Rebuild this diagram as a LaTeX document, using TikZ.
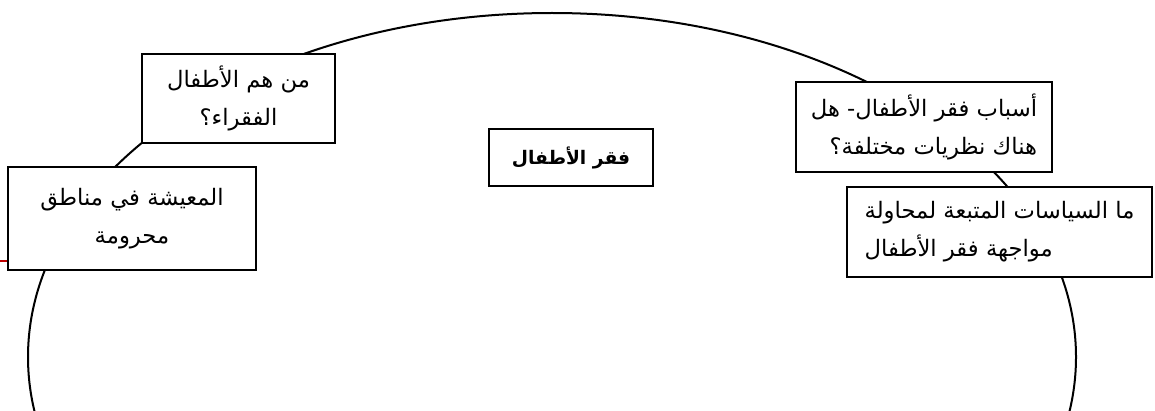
\documentclass[tikz,border=0pt]{standalone}
\usepackage{fontspec}
\newfontfamily\arabicfont[Script=Arabic]{DejaVu Sans}
\TeXXeTstate=1
\usepackage{tikz}

\begin{document}
\begin{tikzpicture}[x=0.75pt, y=-0.75pt,
    box/.style={draw, fill=white, line width=1.5pt, inner sep=0pt,
        align=center, font=\arabicfont\fontsize{17}{28.5}\selectfont}]
    \useasboundingbox (0,0) rectangle (1155,410);
    \clip (0,0) rectangle (1155,410);
    \draw[line width=1.5pt] (552,357) ellipse [x radius=524, y radius=344];
    \node[box, minimum width=144.75pt, minimum height=66.75pt] (poor) at (238.5,98.5)
        {\beginR من هم الأطفال\endR\\\beginR الفقراء؟\endR};
    \node[box, minimum width=186pt, minimum height=77.25pt] (living) at (132,218.5)
        {\beginR المعيشة في مناطق\endR\\\beginR محرومة\endR};
    \node[box, minimum width=123pt, minimum height=42.75pt,
        font=\arabicfont\bfseries\fontsize{14}{28}\selectfont] (core) at (571,157.5)
        {\beginR فقر الأطفال\endR};
    \node[box, minimum width=192pt, minimum height=67.5pt, align=right] (causes) at (924,127)
        {\beginR أسباب فقر الأطفال- هل\endR\\\beginR هناك نظريات مختلفة؟\endR};
    \node[box, minimum width=228.75pt, minimum height=67.5pt, align=left] (policy) at (999.5,232)
        {\beginR ما السياسات المتبعة لمحاولة\endR\\\beginR مواجهة فقر الأطفال\endR};
    \coordinate (redend) at (0,261);
    \draw[red!75!black, line width=0.8pt] (redend) -- (redend -| living.west);
\end{tikzpicture}
\end{document}
